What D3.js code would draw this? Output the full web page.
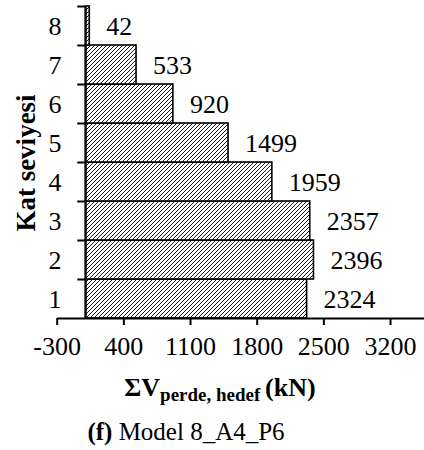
<!DOCTYPE html>
<html>
<head>
<meta charset="utf-8">
<script src="https://cdn.jsdelivr.net/npm/d3@7"></script>
<style>
  body { margin: 0; background: #fff; }
</style>
</head>
<body>
<div id="chart"></div>
<script>
const width = 424;
const height = 450;
const serif = "'Liberation Serif', 'Times New Roman', serif";
const fs = 26;

// floors (bottom to top) and shear values
const floors = ["1", "2", "3", "4", "5", "6", "7", "8"];
const values = [2324, 2396, 2357, 1959, 1499, 920, 533, 42];
const xTicks = [-300, 400, 1100, 1800, 2500, 3200];

const svg = d3
  .select("#chart")
  .append("svg")
  .attr("width", width)
  .attr("height", height)
  .attr("font-family", serif)
  .attr("font-size", fs);

// hatch pattern
const defs = svg.append("defs");
const pat = defs
  .append("pattern")
  .attr("id", "hatch")
  .attr("patternUnits", "userSpaceOnUse")
  .attr("width", 4)
  .attr("height", 4);
pat.append("rect").attr("width", 4).attr("height", 4).attr("fill", "#fff");
pat
  .append("path")
  .attr("d", "M-1,1 l2,-2 M0,4 l4,-4 M3,5 l2,-2")
  .attr("stroke", "#000")
  .attr("stroke-width", 0.9);

const xScale = d3.scaleLinear().domain([-300, 3900]).range([56.7, 456.7]);

const yScale = d3
  .scaleBand()
  .domain(floors)
  .range([318, 6])
  .padding(0);

const yLin = d3.scaleLinear().domain([0, 8]).range([318, 6]);

// bars
svg
  .selectAll("rect.bar")
  .data(values)
  .enter()
  .append("rect")
  .attr("class", "bar")
  .attr("x", xScale(0))
  .attr("y", (d, i) => yScale(floors[i]))
  .attr("width", (d) => xScale(d) - xScale(0))
  .attr("height", yScale.bandwidth())
  .attr("fill", "url(#hatch)")
  .attr("stroke", "#000")
  .attr("stroke-width", 1.6);

// value labels
svg
  .selectAll("text.val")
  .data(values)
  .enter()
  .append("text")
  .attr("class", "val")
  .attr("x", (d) => xScale(d) + 17)
  .attr("y", (d, i) => yScale(floors[i]) + yScale.bandwidth() / 2 + 9.5)
  .attr("font-family", serif)
  .attr("font-size", fs)
  .text((d) => d);

// x axis
const xAxis = d3
  .axisBottom(xScale)
  .tickValues(xTicks)
  .tickFormat(d3.format("d"))
  .tickSizeInner(7)
  .tickSizeOuter(0)
  .tickPadding(12);

const gx = svg
  .append("g")
  .attr("transform", "translate(0,318)")
  .call(xAxis)
  .attr("font-family", serif)
  .attr("font-size", fs);
gx.selectAll("path, line").attr("stroke", "#000").attr("stroke-width", 2);
gx.selectAll("text").attr("fill", "#000").text((d) => d); // plain hyphen minus

// y axis at x = 0
const yAxis = d3
  .axisLeft(yLin)
  .tickValues([1, 2, 3, 4, 5, 6, 7, 8])
  .tickFormat("")
  .tickSizeInner(8)
  .tickSizeOuter(0);

const gy = svg
  .append("g")
  .attr("transform", "translate(" + xScale(0) + ",0)")
  .call(yAxis);
gy.selectAll("path, line").attr("stroke", "#000").attr("stroke-width", 2);

// floor labels
svg
  .selectAll("text.floor")
  .data(floors)
  .enter()
  .append("text")
  .attr("class", "floor")
  .attr("x", 55)
  .attr("y", (d) => yScale(d) + yScale.bandwidth() / 2 + 9)
  .attr("text-anchor", "middle")
  .attr("font-family", serif)
  .attr("font-size", fs)
  .text((d) => d);

// y title
svg
  .append("text")
  .attr("transform", "translate(35,163) rotate(-90)")
  .attr("text-anchor", "middle")
  .attr("font-family", serif)
  .attr("font-size", 27)
  .attr("font-weight", "bold")
  .text("Kat seviyesi");

// x title
const xt = svg
  .append("text")
  .attr("x", 220)
  .attr("y", 396)
  .attr("text-anchor", "middle")
  .attr("font-family", serif)
  .attr("font-size", fs)
  .attr("font-weight", "bold");
xt.append("tspan").text("ΣV");
xt.append("tspan").attr("dy", 5).attr("font-size", 19).text("perde, hedef ");
xt.append("tspan").attr("dy", -5).text("(kN)");

// caption
const cap = svg
  .append("text")
  .attr("x", 186)
  .attr("y", 440)
  .attr("text-anchor", "middle")
  .attr("font-family", serif)
  .attr("font-size", 25);
cap.append("tspan").attr("font-weight", "bold").text("(f)");
cap.append("tspan").text(" Model 8_A4_P6");
</script>
</body>
</html>
